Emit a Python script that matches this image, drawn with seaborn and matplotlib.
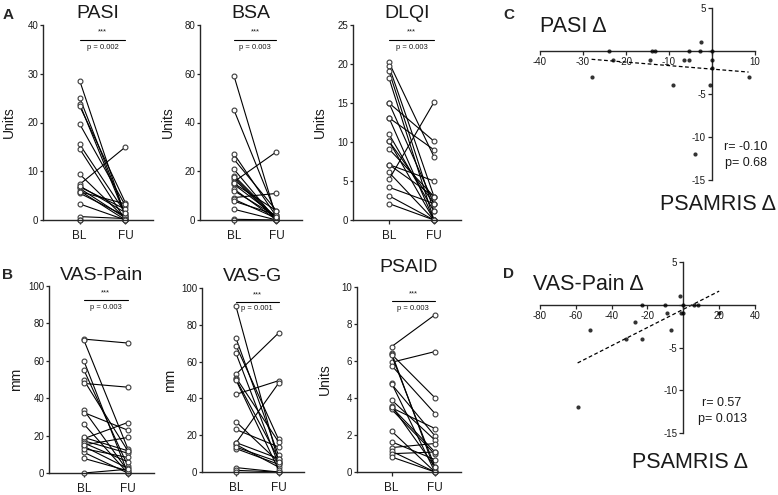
import numpy as np
import pandas as pd
import matplotlib
matplotlib.use("Agg")
import matplotlib.pyplot as plt
import seaborn as sns

# ==========================================
# DATA
# ==========================================
TIMEPOINTS = ["BL", "FU"]

pasi_bl = [28.6, 25.1, 23.8, 23.4, 19.7, 15.5, 14.6, 9.4, 7.3, 6.8, 6.5, 6.0, 5.5, 3.3, 0.7, 0.0, 0.0, 7.0, 5.8]
pasi_fu = [0.6, 1.1, 0.8, 3.5, 2.9, 1.4, 0.0, 0.3, 15.0, 2.2, 0.4, 0.0, 0.8, 0.0, 0.3, 0.0, 0.0, 1.5, 3.3]

bsa_bl = [59.1, 45.1, 27.1, 24.9, 20.8, 18.2, 16.8, 15.7, 14.6, 12.7, 9.2, 8.5, 7.7, 4.4, 0.3, 0.0, 15.0, 17.5, 12.0]
bsa_fu = [0.7, 2.1, 1.4, 3.8, 0.0, 0.7, 0.0, 28.0, 1.4, 0.0, 10.9, 0.7, 2.1, 0.0, 0.0, 0.0, 3.8, 0.0, 1.4]

dlqi_bl = [20.2, 19.7, 19.1, 18.2, 15.0, 15.0, 13.1, 11.0, 10.1, 9.1, 7.1, 6.1, 5.2, 4.2, 3.1, 2.1, 7.1, 13.1, 10.1]
dlqi_fu = [8.1, 3.0, 1.1, 0.0, 10.1, 2.1, 9.0, 1.1, 0.0, 3.0, 3.0, 0.0, 15.1, 2.1, 0.0, 0.0, 5.0, 0.0, 2.1]

vaspain_bl = [71.6, 70.9, 59.8, 55.0, 49.5, 47.9, 33.5, 32.3, 26.1, 18.4, 17.2, 16.0, 14.2, 11.0, 7.8, 0.0, 19.0, 13.0, 15.0]
vaspain_fu = [69.5, 13.1, 0.0, 3.9, 11.9, 45.9, 1.2, 22.9, 0.0, 27.0, 10.6, 6.0, 2.5, 0.0, 1.2, 2.0, 11.9, 8.3, 19.0]

vasg_bl = [90.0, 72.7, 68.7, 64.5, 53.1, 51.3, 50.4, 42.2, 27.3, 23.1, 15.8, 14.9, 12.7, 2.4, 0.9, 16.0, 50.0, 13.5, 0.0]
vasg_fu = [5.5, 9.1, 17.8, 4.2, 75.5, 16.4, 7.3, 49.6, 5.5, 13.6, 48.2, 2.7, 4.2, 0.0, 0.0, 7.3, 1.3, 5.5, 0.0]

psaid_bl = [6.78, 6.42, 6.36, 5.93, 5.75, 4.79, 4.74, 3.89, 3.56, 3.47, 3.38, 2.21, 1.63, 1.32, 1.12, 0.99, 0.81, 6.30, 3.50]
psaid_fu = [8.50, 0.09, 4.01, 6.51, 3.16, 0.00, 1.95, 1.72, 0.27, 2.35, 0.96, 0.00, 0.67, 1.54, 0.00, 1.08, 0.00, 0.27, 1.08]

# C: PASI change vs PSAMRIS change
pasi_delta = [-24, -23, -28, -14, -13.3, -14.5, -9, -6.5, -5.3, -5.3, -2.8, -2.5, 0, 0, 0, -0.5, 8.5, -4]
psamris_delta_c = [0, -1, -3, 0, 0, -1, -4, -1, -1, 0, 0, 1, 0, -1, -2, -4, -3, -12]

# D: VAS-Pain change vs PSAMRIS change
vaspain_delta = [-52, -32, -23, -23, -27, -10, -9, -7, -2, -1.5, 0, 0, 6, 8, 20, -59]
psamris_delta_d = [-3, -4, 0, -4, -2, 0, -1, -3, 1, -1, -1, 0, 0, 0, -1, -12]

# ==========================================
# STYLE
# ==========================================
sns.set_style("ticks")
plt.rcParams["font.family"] = ["Liberation Sans", "DejaVu Sans"]
plt.rcParams["axes.linewidth"] = 1.0
INK = "#1a1a1a"

W, H = 778, 495
fig = plt.figure(figsize=(W / 100, H / 100), dpi=100)


def px_axes(left, top, width, bottom):
    """Axes from pixel coordinates of the reference picture."""
    return fig.add_axes([left / W, 1 - bottom / H, width / W, (bottom - top) / H])


def paired_panel(ax, bl, fu, title, ylabel, ymax, step, pval, title_pad):
    n = len(bl)
    df = pd.DataFrame({
        "pid": np.tile(np.arange(n), 2),
        "time": pd.Categorical([TIMEPOINTS[0]] * n + [TIMEPOINTS[1]] * n, categories=TIMEPOINTS).codes,
        "value": list(bl) + list(fu),
    })
    sns.lineplot(
        data=df, x="time", y="value", units="pid", estimator=None,
        color="black", lw=0.8, marker="o", markersize=3.5,
        markerfacecolor="white", markeredgecolor="#3a3a3a", markeredgewidth=0.8,
        clip_on=False, legend=False, ax=ax,
    )
    ax.set_xlim(-0.8, 1.6)
    ax.set_ylim(0, ymax)
    ax.set_yticks(np.arange(0, ymax + step / 2, step))
    ax.set_xticks(range(len(TIMEPOINTS)), TIMEPOINTS)
    sns.despine(ax=ax)
    ax.spines["left"].set_bounds(0, ymax)
    ax.tick_params(axis="y", length=2.5, width=0.9, pad=1, labelsize=7, labelcolor=INK)
    ax.tick_params(axis="x", length=3, width=0.9, pad=4, labelsize=8.5, labelcolor=INK)
    ax.set_xlabel("")
    ax.set_ylabel(ylabel, fontsize=10, color=INK)
    ax.yaxis.set_label_coords(-0.245, 0.5)
    ax.set_title(title, fontsize=14, pad=title_pad, color=INK)

    # significance bar
    ybar = 0.925 * ymax
    ax.plot([0, 1], [ybar, ybar], color="black", lw=0.8, clip_on=False)
    ax.text(0.5, 0.945 * ymax, "***", ha="center", va="bottom", fontsize=5.5, color=INK)
    ax.text(0.5, 0.905 * ymax, pval, ha="center", va="top", fontsize=5.5, color=INK)


def delta_panel(ax, x, y, xmin, xmax, xstep):
    sns.regplot(
        x=np.asarray(x, float), y=np.asarray(y, float), ci=None, ax=ax, color="black",
        scatter_kws=dict(s=9, linewidths=0, clip_on=False, zorder=3),
        line_kws=dict(ls=(0, (3, 2)), lw=0.9),
    )
    ax.set_xlim(xmin, xmax)
    ax.set_ylim(-15, 5)
    for s in ("top", "right"):
        ax.spines[s].set_visible(False)
    ax.spines["left"].set_position(("data", 0))
    ax.spines["bottom"].set_position(("data", 0))
    xt = np.arange(xmin, xmax + xstep / 2, xstep)
    ax.set_xticks(xt, [f"{v:g}" if v != 0 else "" for v in xt])
    yt = np.arange(-15, 6, 5)
    ax.set_yticks(yt, [f"{v:g}" if v != 0 else "" for v in yt])
    ax.tick_params(axis="both", length=3, width=0.9, pad=1.5, labelsize=7, labelcolor=INK)
    ax.set_xlabel("")
    ax.set_ylabel("")


# ==========================================
# PANELS A / B
# ==========================================
ax = px_axes(43, 25, 110, 220)
paired_panel(ax, pasi_bl, pasi_fu, "PASI", "Units", 40, 10, "p = 0.002", 5)
ax = px_axes(200, 25, 102, 220)
paired_panel(ax, bsa_bl, bsa_fu, "BSA", "Units", 80, 20, "p = 0.003", 5)
ax = px_axes(353, 25, 108, 220)
paired_panel(ax, dlqi_bl, dlqi_fu, "DLQI", "Units", 25, 5, "p = 0.003", 5)

ax = px_axes(49, 286, 105, 473)
paired_panel(ax, vaspain_bl, vaspain_fu, "VAS-Pain", "mm", 100, 20, "p = 0.003", 4.5)
ax = px_axes(202, 288, 102, 472)
paired_panel(ax, vasg_bl, vasg_fu, "VAS-G", "mm", 100, 20, "p = 0.001", 5)
ax = px_axes(357, 287, 104, 472)
paired_panel(ax, psaid_bl, psaid_fu, "PSAID", "Units", 10, 2, "p = 0.003", 11)

# ==========================================
# PANELS C / D
# ==========================================
ax = px_axes(540, 8, 215, 180)
delta_panel(ax, pasi_delta, psamris_delta_c, -40, 10, 10)
ax = px_axes(540, 262, 215, 433)
delta_panel(ax, vaspain_delta, psamris_delta_d, -80, 40, 20)

fig.text(540 / W, 1 - 26 / H, "PASI Δ", fontsize=15.5, ha="left", va="center", color=INK)
fig.text(718 / W, 1 - 205 / H, "PSAMRIS Δ", fontsize=15.5, ha="center", va="center", color=INK)
fig.text(746 / W, 1 - 147 / H, "r= -0.10", fontsize=9, ha="center", va="center", color=INK)
fig.text(746 / W, 1 - 163 / H, "p= 0.68", fontsize=9, ha="center", va="center", color=INK)

fig.text(533 / W, 1 - 285 / H, "VAS-Pain Δ", fontsize=15.5, ha="left", va="center", color=INK)
fig.text(690 / W, 1 - 462 / H, "PSAMRIS Δ", fontsize=15.5, ha="center", va="center", color=INK)
fig.text(722 / W, 1 - 403 / H, "r= 0.57", fontsize=9, ha="center", va="center", color=INK)
fig.text(722 / W, 1 - 419 / H, "p= 0.013", fontsize=9, ha="center", va="center", color=INK)

# panel letters
for letter, (lx, ly) in {"A": (8, 15), "B": (8, 275), "C": (509, 15), "D": (509, 274)}.items():
    fig.text(lx / W, 1 - ly / H, letter, fontsize=11, fontweight="bold", ha="center", va="center")

fig.savefig("out.png", dpi=100)
